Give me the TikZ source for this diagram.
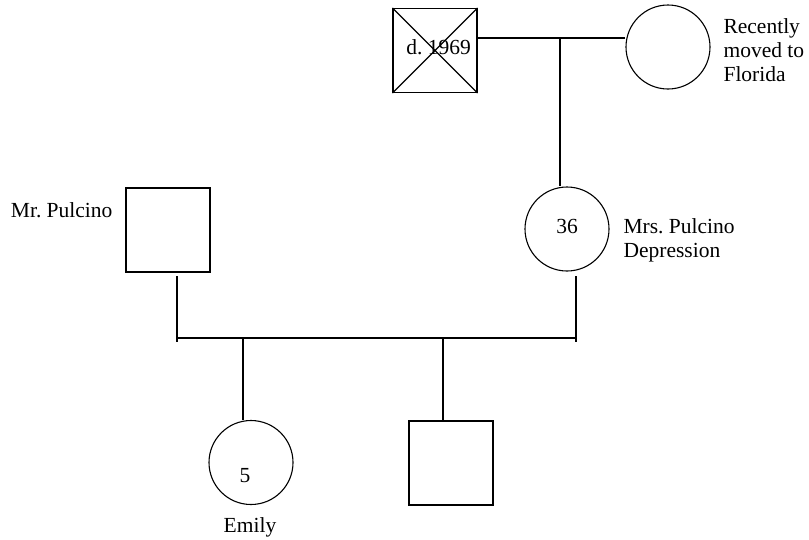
\documentclass[tikz,border=0pt]{standalone}
\usepackage{fontspec}
\setmainfont{Liberation Serif}
\frenchspacing
\begin{document}
\begin{tikzpicture}[x=1pt,y=-1pt,
  line width=1.1pt,
  person/.style={draw, minimum size=84pt, inner sep=0pt},
  male/.style={person, rectangle},
  female/.style={person, circle},
  lbl/.style={inner sep=0pt, font=\fontsize{21.5}{24}\selectfont},
]
\useasboundingbox (0,0) rectangle (809,539);

% people
\node[male]   (gf)    at (435,50.5) {};
\node[female] (gm)    at (668,47)   {};
\node[female] (mrs)   at (567,229)  {};
\node[male]   (mr)    at (168,230)  {};
\node[female] (emily) at (251,462.5) {};
\node[male]   (son)   at (451,463)  {};

% deceased mark
\draw (gf.north west) -- (gf.south east) (gf.north east) -- (gf.south west);

% grandparents' marriage and descent
\coordinate (gp) at (560,38);
\draw (gf.east |- gp) -- (gm.west |- gp);
\draw (gp) -- (gp |- mrs.north);

% parents' marriage line
\coordinate (mrdrop)  at (177,276);
\coordinate (mrsdrop) at (576,276);
\coordinate (sibL) at (177,338);
\coordinate (sibR) at (576,338);
\draw (mrdrop) -- ++(0,66);
\draw (mrsdrop) -- ++(0,66);
\draw (sibL) -- (sibR);

% children
\coordinate (c1) at (243,338);
\coordinate (c2) at (443,338);
\draw (c1) -- (c1 |- emily.north);
\draw (c2) -- (c2 |- son.north);

% labels
\node[lbl, anchor=base] (gfdate) at (438.5,54) {d. 1969};
\node[lbl, anchor=base west] (gmnoteA) at (723,33) {Recently};
\node[lbl, anchor=base west] (gmnoteB) at (723,57) {moved to};
\node[lbl, anchor=base west] (gmnoteC) at (723,81) {Florida};
\node[lbl, anchor=base east] (mrname) at (113,217) {Mr. Pulcino};
\node[lbl, anchor=base] (mrsage) at (567,233) {36};
\node[lbl, anchor=base west] (mrsname) at (623,233) {Mrs. Pulcino};
\node[lbl, anchor=base west] (mrsdx) at (623,257) {Depression};
\node[lbl, anchor=base] (emilyage) at (245,482) {5};
\node[lbl, anchor=base] (emilyname) at (250,532) {Emily};
\end{tikzpicture}
\end{document}
